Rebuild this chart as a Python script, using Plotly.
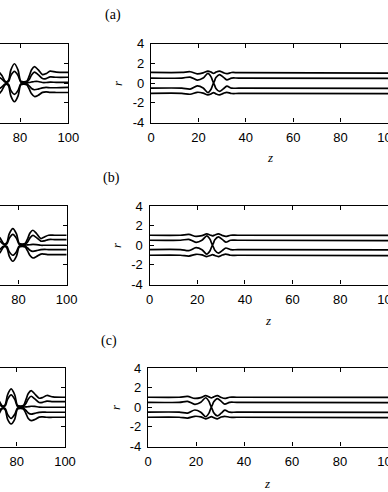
import plotly.graph_objects as go

# ---------------- data ----------------
# left panels (zoomed-out view, only z ~ 72..100 visible)
z_left = [71.0, 72.5, 73.8, 74.5, 75.3, 76.2, 77.7, 79.2, 80.3, 81.5,
          82.8, 83.8, 84.8, 86.0, 87.5, 89.3, 90.8, 92.5, 95.0, 100.0]

left_a_uo = [1.2, 0.75, 0.2, 0.12, 0.3, 1.3, 1.95, 1.3, 0.2, 0.12, 0.18, 0.7, 1.35, 1.65, 1.35, 0.85, 0.95, 1.2, 1.1, 1.08]
left_a_ui = [0.65, 0.4, 0.1, 0.06, 0.15, 0.75, 1.17, 0.75, 0.1, 0.06, 0.09, 0.35, 0.8, 1.1, 0.85, 0.45, 0.45, 0.62, 0.58, 0.58]
left_a_c = [None, None, None, None, None, None, None, None, 0.0, 0.0, 0.02, 0.05, 0.1, 0.15, 0.15, 0.05, 0.05, 0.08, 0.07, 0.07]
left_a_li = [-0.65, -0.4, -0.1, -0.06, -0.15, -0.75, -1.15, -0.75, -0.1, -0.06, -0.09, -0.3, -0.55, -0.68, -0.62, -0.5, -0.45, -0.48, -0.48, -0.45]
left_a_lo = [-1.2, -0.75, -0.2, -0.12, -0.3, -1.3, -1.9, -1.3, -0.2, -0.12, -0.18, -0.6, -1.1, -1.37, -1.25, -0.95, -0.9, -0.95, -0.96, -0.96]

left_b_uo = [1.1, 0.7, 0.2, 0.12, 0.3, 1.15, 1.7, 1.15, 0.2, 0.12, 0.18, 0.65, 1.25, 1.53, 1.2, 0.68, 0.85, 1.02, 1.02, 1.02]
left_b_ui = [0.6, 0.38, 0.1, 0.06, 0.15, 0.7, 1.1, 0.7, 0.1, 0.06, 0.09, 0.33, 0.75, 1.0, 0.78, 0.42, 0.45, 0.58, 0.58, 0.58]
left_b_c = [None, None, None, None, None, None, None, None, 0.0, 0.0, 0.02, 0.03, 0.05, 0.08, 0.06, 0.0, 0.0, 0.0, 0.0, 0.0]
left_b_li = [-0.6, -0.38, -0.1, -0.06, -0.15, -0.65, -1.02, -0.65, -0.1, -0.06, -0.09, -0.28, -0.5, -0.62, -0.55, -0.45, -0.42, -0.44, -0.44, -0.44]
left_b_lo = [-1.1, -0.7, -0.2, -0.12, -0.3, -1.1, -1.63, -1.1, -0.2, -0.12, -0.18, -0.58, -1.05, -1.3, -1.15, -0.9, -0.9, -0.95, -0.95, -0.95]

left_c_uo = [1.15, 0.72, 0.2, 0.12, 0.3, 1.25, 1.87, 1.25, 0.2, 0.12, 0.18, 0.75, 1.4, 1.7, 1.35, 0.92, 1.0, 1.2, 1.05, 1.02]
left_c_ui = [0.62, 0.4, 0.1, 0.06, 0.15, 0.8, 1.27, 0.8, 0.1, 0.06, 0.09, 0.38, 0.85, 1.12, 0.85, 0.48, 0.5, 0.62, 0.58, 0.58]
left_c_c = [None, None, None, None, None, None, None, None, 0.0, 0.0, 0.02, 0.03, 0.06, 0.1, 0.08, 0.02, 0.0, 0.0, 0.0, 0.0]
left_c_li = [-0.62, -0.4, -0.1, -0.06, -0.15, -0.72, -1.13, -0.72, -0.1, -0.06, -0.09, -0.32, -0.58, -0.7, -0.62, -0.52, -0.5, -0.51, -0.51, -0.51]
left_c_lo = [-1.15, -0.72, -0.2, -0.12, -0.3, -1.2, -1.7, -1.2, -0.2, -0.12, -0.18, -0.62, -1.15, -1.36, -1.25, -1.0, -0.98, -1.02, -1.02, -1.02]

# right panels (full view z = 0..100)
z_right = [0, 13, 16.5, 19.5, 22, 24, 25.4, 26.4, 27.4, 28.9, 30.5, 32, 34, 37, 100]

right_a_uo = [1.07, 1.07, 1.14, 0.93, 1.02, 1.2, 1.1, 0.98, 1.1, 1.2, 1.05, 0.94, 1.06, 1.05, 1.0]
right_a_ui = [0.5, 0.5, 0.6, 0.3, 0.5, 0.97, 0.6, 0.02, 0.55, 0.85, 0.6, 0.32, 0.5, 0.5, 0.46]
right_a_li = [-0.52, -0.52, -0.62, -0.3, -0.5, -0.97, -0.6, -0.02, -0.55, -0.85, -0.6, -0.32, -0.52, -0.52, -0.55]
right_a_lo = [-1.05, -1.05, -1.14, -0.94, -1.02, -1.2, -1.1, -0.98, -1.1, -1.2, -1.05, -0.94, -1.06, -1.06, -1.08]

right_b_uo = [1.02, 1.02, 1.1, 0.9, 0.98, 1.15, 1.05, 0.95, 1.05, 1.15, 1.0, 0.9, 1.02, 1.02, 1.0]
right_b_ui = [0.51, 0.51, 0.6, 0.3, 0.5, 0.95, 0.6, 0.02, 0.55, 0.85, 0.6, 0.32, 0.51, 0.51, 0.48]
right_b_li = [-0.44, -0.44, -0.55, -0.25, -0.45, -0.9, -0.55, -0.02, -0.5, -0.8, -0.55, -0.28, -0.45, -0.45, -0.48]
right_b_lo = [-1.02, -1.02, -1.1, -0.92, -0.98, -1.15, -1.05, -0.95, -1.05, -1.15, -1.0, -0.9, -1.02, -1.02, -1.05]

right_c_uo = [1.02, 1.02, 1.1, 0.9, 0.98, 1.18, 1.06, 0.95, 1.06, 1.18, 1.0, 0.9, 1.02, 1.02, 1.0]
right_c_ui = [0.5, 0.5, 0.6, 0.3, 0.5, 0.97, 0.6, 0.02, 0.55, 0.88, 0.6, 0.32, 0.5, 0.5, 0.47]
right_c_li = [-0.5, -0.5, -0.6, -0.28, -0.5, -0.97, -0.6, -0.02, -0.55, -0.88, -0.6, -0.3, -0.5, -0.5, -0.52]
right_c_lo = [-1.02, -1.02, -1.1, -0.92, -0.98, -1.18, -1.06, -0.95, -1.06, -1.18, -1.0, -0.92, -1.02, -1.02, -1.05]

x_ticks = [0, 20, 40, 60, 80, 100]
r_ticks = [-4, -2, 0, 2, 4]
r_ticktext = ["-4", "-2", "0", "2", "4"]
panel_labels = ["(a)", "(b)", "(c)"]

left_sets = [
    [left_a_uo, left_a_ui, left_a_c, left_a_li, left_a_lo],
    [left_b_uo, left_b_ui, left_b_c, left_b_li, left_b_lo],
    [left_c_uo, left_c_ui, left_c_c, left_c_li, left_c_lo],
]
right_sets = [
    [right_a_uo, right_a_ui, right_a_li, right_a_lo],
    [right_b_uo, right_b_ui, right_b_li, right_b_lo],
    [right_c_uo, right_c_ui, right_c_li, right_c_lo],
]

# ---------------- layout geometry (pixels) ----------------
W, H = 388, 492
rows_px = [(43.5, 122.5), (206.0, 284.5), (368.0, 446.5)]
right_left_px = [151.0, 149.5, 148.0]
left_right_px = [68.3, 66.7, 65.0]
left_scale = 2.415  # px per unit of z
label_pos = [(113, 15), (111, 178), (109, 341)]
z_pos = [(270, 157), (268, 320), (267, 483)]
r_pos = [(117, 83), (116, 245), (115, 407)]

fig = go.Figure()
layout = dict(
    width=W, height=H, margin=dict(l=0, r=0, t=0, b=0, autoexpand=False),
    paper_bgcolor="white", plot_bgcolor="white", showlegend=False,
)

tickfont = dict(family="Liberation Sans, Arial, sans-serif", size=13, color="black")
common = dict(showline=True, linecolor="black", linewidth=1.2, ticks="inside",
              ticklen=4, tickwidth=1, tickcolor="black", showgrid=False,
              zeroline=False, tickfont=tickfont, automargin=False)

annotations = []
line_style = dict(color="black", width=1.7, shape="spline", smoothing=0.8)
serif = "Liberation Serif, Times New Roman, serif"

for i in range(3):
    top, bot = rows_px[i]
    ydom = [1 - bot / H, 1 - top / H]
    li_idx = 2 * i + 1
    ri_idx = 2 * i + 2
    ex_idx = 7 + i  # extra overlay axis for mirrored ticks at the right edge
    lx = "x" if li_idx == 1 else f"x{li_idx}"
    ly = "y" if li_idx == 1 else f"y{li_idx}"
    rx = f"x{ri_idx}"
    ry = f"y{ri_idx}"

    lrange = [100 - left_right_px[i] / left_scale, 100]
    layout["xaxis" if li_idx == 1 else f"xaxis{li_idx}"] = dict(
        common, domain=[0, left_right_px[i] / W], range=lrange, mirror="ticks",
        tickvals=x_ticks, anchor=ly, ticklabelstandoff=3)
    layout["yaxis" if li_idx == 1 else f"yaxis{li_idx}"] = dict(
        common, domain=ydom, range=[-4, 4], side="right", mirror=False,
        showticklabels=False, tickvals=r_ticks, anchor=lx)
    layout[f"xaxis{ri_idx}"] = dict(
        common, domain=[right_left_px[i] / W, 1], range=[0, 100], mirror="ticks",
        tickvals=x_ticks, anchor=ry, ticklabelstandoff=3, ticklabeloverflow="allow")
    layout[f"yaxis{ri_idx}"] = dict(
        common, domain=ydom, range=[-4, 4], side="left", mirror=False,
        tickvals=r_ticks, ticktext=r_ticktext, anchor=rx, ticklabelstandoff=3)
    layout[f"yaxis{ex_idx}"] = dict(
        common, range=[-4, 4], side="right", overlaying=ry, anchor=rx,
        showline=False, showticklabels=False, tickvals=[-2, 0, 2])

    for rv in left_sets[i]:
        fig.add_trace(go.Scatter(x=z_left, y=rv, mode="lines", line=line_style,
                                 xaxis=lx, yaxis=ly, hoverinfo="skip", cliponaxis=True))
    for rv in right_sets[i]:
        fig.add_trace(go.Scatter(x=z_right, y=rv, mode="lines", line=line_style,
                                 xaxis=rx, yaxis=ry, hoverinfo="skip", cliponaxis=True))

    annotations.append(dict(text=panel_labels[i], xref="paper", yref="paper",
                            x=label_pos[i][0] / W, y=1 - label_pos[i][1] / H,
                            xanchor="center", yanchor="middle", showarrow=False,
                            font=dict(family=serif, size=14, color="black")))
    annotations.append(dict(text="<i>z</i>", xref="paper", yref="paper",
                            x=z_pos[i][0] / W, y=1 - z_pos[i][1] / H,
                            xanchor="center", yanchor="middle", showarrow=False,
                            font=dict(family=serif, size=13, color="black")))
    annotations.append(dict(text="<i>r</i>", xref="paper", yref="paper",
                            x=r_pos[i][0] / W, y=1 - r_pos[i][1] / H,
                            xanchor="center", yanchor="middle", showarrow=False,
                            textangle=-90,
                            font=dict(family=serif, size=13, color="black")))

layout["annotations"] = annotations
fig.update_layout(**layout)
fig.write_html("out.html")
